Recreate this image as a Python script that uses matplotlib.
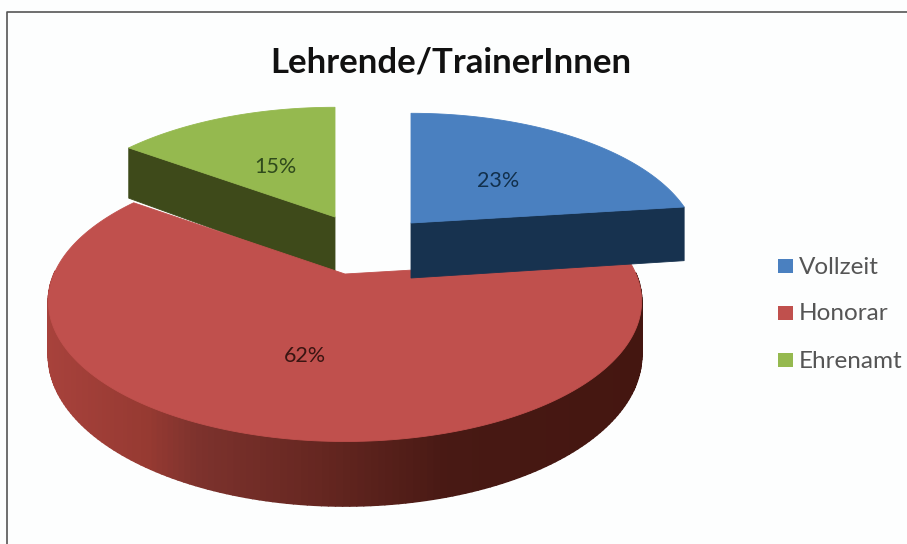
"""Exploded 3D pie: Lehrende/TrainerInnen."""

import numpy as np
import matplotlib
matplotlib.use("Agg")
import matplotlib.pyplot as plt
from matplotlib.collections import PolyCollection
from matplotlib.patches import Polygon, Rectangle

categories = ["Vollzeit", "Honorar", "Ehrenamt"]
values = [23, 62, 15]
labels = ["23%", "62%", "15%"]
title = "Lehrende/TrainerInnen"

top_colors = ["#4a80c0", "#c0504d", "#95b94f"]
cut_colors = ["#17324f", "#521c14", "#3e4a1a"]
label_colors = ["#12304c", "#3a1512", "#2f4a1c"]

# slice apex in pixels, half sizes, depth of the side wall
centers = [(411, 223), (345, 274), (335, 217)]
radii_x = [282, 291, 284]
radii_y = [131, 135, 131]
depths = [55, 52, 56]
PERSP = 0.194

# shading of the round red wall, left to right
WALL_X = [45, 150, 200, 330, 450, 645]
WALL_R = [168, 150, 125, 100, 72, 68]
WALL_G = [66, 58, 50, 38, 25, 22]
WALL_B = [60, 50, 45, 32, 20, 16]


def project(i, r, ang, drop=0.0):
    # ang in degrees clockwise from 12 o'clock, perspective makes the front bigger
    u = r * np.sin(np.radians(ang))
    v = -r * np.cos(np.radians(ang))
    f = 1 / (1 - PERSP * v)
    cx, cy = centers[i]
    return cx + radii_x[i] * u * f, cy + (radii_y[i] * v + drop) * f


def arc(i, a0, a1, drop=0.0):
    ang = np.linspace(a0, a1, 200)
    x, y = project(i, 1.0, ang, drop)
    return np.column_stack([x, y])


def draw_slice(ax, i, a0, a1):
    top = arc(i, a0, a1)

    # only the red slice shows its round wall, and only on the front half
    if i == 1:
        bottom = arc(i, a0, a1, depths[i])
        ang = np.linspace(a0, a1, 200)
        walls = []
        colors = []
        for j in range(len(top) - 1):
            if np.cos(np.radians(ang[j])) > 0.02:
                continue
            walls.append([top[j], top[j + 1], bottom[j + 1], bottom[j]])
            mid_x = top[j][0]
            colors.append((np.interp(mid_x, WALL_X, WALL_R) / 255,
                           np.interp(mid_x, WALL_X, WALL_G) / 255,
                           np.interp(mid_x, WALL_X, WALL_B) / 255))
        ax.add_collection(PolyCollection(walls, facecolors=colors, edgecolors=colors, linewidths=1.2))

    # flat cut faces that look to the front
    apex = np.array(project(i, 0.0, 0.0))
    apex_low = np.array(project(i, 0.0, 0.0, depths[i]))
    for ang, ok in ((a1, i == 0), (a0, i == 2)):
        if ok:
            edge = arc(i, ang, ang)[0]
            edge_low = arc(i, ang, ang, depths[i])[0]
            ax.add_patch(Polygon([apex, edge, edge_low, apex_low], closed=True,
                                 facecolor=cut_colors[i], edgecolor=cut_colors[i], linewidth=0.6))

    ax.add_patch(Polygon(np.vstack([apex, top]), closed=True,
                         facecolor=top_colors[i], edgecolor=top_colors[i], linewidth=0.6))


fig = plt.figure(figsize=(9.07, 5.44), dpi=100, facecolor="#fdfefe")
ax = fig.add_axes([0, 0, 1, 1])
ax.set_xlim(0, 907)
ax.set_ylim(544, 0)
ax.axis("off")

# frame, open at right and bottom like the crop
ax.plot([7, 7, 907], [544, 12, 12], color="#555555", lw=1.2)

edges = np.concatenate([[0], np.cumsum(values)]) * 3.6
mids = (edges[:-1] + edges[1:]) / 2

# green at the back, then red, blue sits over the red edge
for i in (2, 1, 0):
    draw_slice(ax, i, edges[i], edges[i + 1])

for i, lab in enumerate(labels):
    x, y = project(i, 0.5, mids[i])
    ax.text(x, y + (10 if i == 1 else 4), lab, ha="center", va="center",
            fontsize=15.5, family="Lato", color=label_colors[i])

ax.text(451, 63, title, ha="center", va="center", fontsize=25, fontweight="bold",
        family="Lato", color="#111111")

legend_y = [266, 313, 360]
for i, name in enumerate(categories):
    ax.add_patch(Rectangle((778, legend_y[i] - 7), 15, 14, facecolor=top_colors[i], edgecolor="none"))
    ax.text(799, legend_y[i] + 1, name, ha="left", va="center", fontsize=17.5,
            family="Lato", color="#555555")

fig.savefig("out.png", dpi=100, facecolor=fig.get_facecolor())
